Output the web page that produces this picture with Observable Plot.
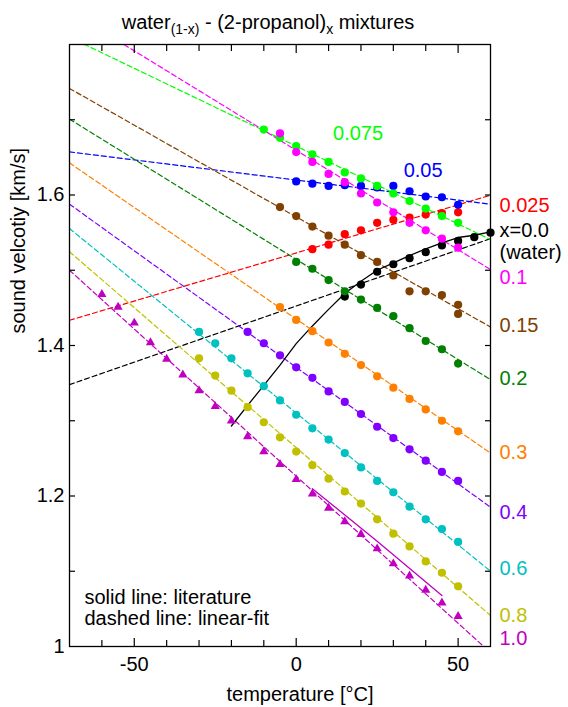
<!DOCTYPE html>
<html><head><meta charset="utf-8">
<script src="https://cdn.jsdelivr.net/npm/d3@7"></script>
<script src="https://cdn.jsdelivr.net/npm/@observablehq/plot@0.6"></script>
<style>
body{margin:0;background:#fff;font-family:"Liberation Sans",Arial,sans-serif;}
#wrap{position:relative;width:568px;height:707px;overflow:hidden;}
#title{position:absolute;z-index:2;left:0;top:10px;width:536px;text-align:center;font-size:20px;line-height:24px;color:#000;}
#title sub{font-size:14px;line-height:0;vertical-align:-5px;}
</style></head><body>
<div id="wrap"><div id="title">water<sub>(1-x)</sub> - (2-propanol)<sub>x</sub> mixtures</div></div>
<script>
// ---------- data ----------
const seriesNames = ["x=0.0","0.025","0.05","0.075","0.1","0.15","0.2","0.3","0.4","0.6","0.8","1.0"];

const tWater = [15,20,25,30,35,40,45,50,55,60];
const vWater = [1.465,1.481,1.498,1.508,1.516,1.524,1.533,1.539,1.544,1.550];
const t0025 = [5,10,15,20,25,30,35,40,45,50];
const v0025 = [1.528,1.534,1.548,1.553,1.563,1.567,1.570,1.574,1.576,1.577];
const t005 = [0,5,10,15,20,25,30,35,40,45,50];
const v005 = [1.618,1.615,1.612,1.613,1.612,1.610,1.612,1.605,1.598,1.597,1.587];
const t0075 = [-10,-5,0,5,10,15,20,25,30,35,40,45,50];
const v0075 = [1.687,1.676,1.665,1.654,1.644,1.630,1.622,1.612,1.602,1.592,1.582,1.572,1.563];
const t01 = [-5,0,5,10,15,20,25,30,35,40,45,50];
const v01 = [1.682,1.657,1.644,1.628,1.617,1.602,1.590,1.577,1.563,1.553,1.542,1.530];
const t015 = [-5,0,5,10,15,20,25,30,35,40,45,50,50];
const v015 = [1.584,1.572,1.558,1.546,1.534,1.520,1.511,1.493,1.472,1.472,1.467,1.454,1.442];
const t02 = [0,5,10,15,20,25,30,35,40,45,50];
const v02 = [1.511,1.502,1.487,1.472,1.461,1.450,1.439,1.423,1.406,1.395,1.376];
const t03 = [-5,0,5,10,15,20,25,30,35,40,45,50];
const v03 = [1.451,1.434,1.419,1.404,1.389,1.374,1.359,1.344,1.329,1.315,1.300,1.286];
const t04 = [-15,-10,-5,0,5,10,15,20,25,30,35,40,45,50];
const v04 = [1.418,1.403,1.387,1.371,1.357,1.339,1.325,1.309,1.292,1.277,1.262,1.247,1.232,1.220];
const t06 = [-30,-25,-20,-15,-10,-5,0,5,10,15,20,25,30,35,40,45,50];
const v06 = [1.418,1.403,1.383,1.363,1.346,1.327,1.308,1.290,1.275,1.257,1.238,1.220,1.205,1.186,1.169,1.156,1.139];
const t08 = [-30,-25,-20,-15,-10,-5,0,5,10,15,20,25,30,35,40,45,50];
const v08 = [1.383,1.360,1.340,1.318,1.298,1.278,1.259,1.241,1.223,1.206,1.190,1.169,1.150,1.133,1.113,1.098,1.080];
const t10 = [-60,-55,-50,-45,-40,-35,-30,-25,-20,-15,-10,-5,0,5,10,15,20,25,30,35,40,45,50];
const v10 = [1.468,1.451,1.430,1.404,1.382,1.361,1.340,1.319,1.300,1.279,1.259,1.242,1.222,1.203,1.184,1.166,1.149,1.130,1.110,1.094,1.075,1.058,1.040];

// linear-fit lines: value at the left (-70 °C) and right (60 °C) edge of the frame
const fitT = [-70, 60];
const fitLeftV  = [1.348,1.4335,1.6573,1.8097,1.8444,1.7416,1.7008,1.6427,1.5878,1.5554,1.5246,1.500];
const fitRightV = [1.542,1.5997,1.5878,1.5408,1.5009,1.4246,1.3547,1.2571,1.1852,1.1001,1.0412,0.9918];

// literature (solid) curves
const litWaterT = [-20,-15,-10,-5,0,5,10,15,20,25,30,35,40,45,50,55,60];
const litWaterV = [1.293,1.3205,1.347,1.374,1.4025,1.426,1.448,1.469,1.4854,1.500,1.5097,1.5195,1.5283,1.5363,1.5435,1.5465,1.5509];
const lit10T = [5,25,45];
const lit10V = [1.2097,1.140,1.0678];

// tick values
const xMinorTicks = [-60,-40,-30,-20,-10,10,20,30,40];
const xMajorTicks = [-50,0,50];
const yTicks = [1.1,1.2,1.3,1.4,1.5,1.6,1.7];
const yLabelTicks = [1,1.2,1.4,1.6];

// right-hand series labels
const rightLabels = ["0.025","x=0.0","(water)","0.1","0.15","0.2","0.3","0.4","0.6","0.8","1.0"];
const rightLabelV = [1.5864,1.5522,1.5240,1.4898,1.4259,1.3564,1.2571,1.1778,1.1041,1.0412,1.0102];
const rightLabelSeries = ["0.025","x=0.0","x=0.0","0.1","0.15","0.2","0.3","0.4","0.6","0.8","1.0"];
const innerLabels = ["0.075","0.05"];
const innerLabelT = [19.1, 39.2];
const innerLabelV = [1.6822, 1.633];

// ---------- styles ----------
const palette = ["#000000","#ff0000","#0000ff","#00ff00","#ff00ff","#804000","#008000","#ff8000","#8000ff","#00c0c0","#c0c000","#c000c0"];
const colorOf = s => palette[seriesNames.indexOf(s)];

const tArr = [tWater,t0025,t005,t0075,t01,t015,t02,t03,t04,t06,t08,t10];
const vArr = [vWater,v0025,v005,v0075,v01,v015,v02,v03,v04,v06,v08,v10];

const marks = [];
// fits
seriesNames.forEach((s,i) => {
  const rows = fitT.map((t,j) => ({T: t, V: j === 0 ? fitLeftV[i] : fitRightV[i]}));
  marks.push(Plot.line(rows, {x: "T", y: "V", stroke: palette[i], strokeWidth: 1.2, strokeDasharray: "5,3", clip: true}));
});
// literature
marks.push(Plot.line(litWaterT.map((t,i)=>({T:t,V:litWaterV[i]})), {x:"T", y:"V", stroke:"#000", strokeWidth:1.3}));
marks.push(Plot.line(lit10T.map((t,i)=>({T:t,V:lit10V[i]})), {x:"T", y:"V", stroke:colorOf("1.0"), strokeWidth:1.3}));
// points
seriesNames.forEach((s,i) => {
  const rows = tArr[i].map((t,j)=>({T:t, V:vArr[i][j]}));
  if (s === "1.0") marks.push(Plot.dot(rows, {x:"T", y:"V", fill: palette[i], symbol:"triangle", r: 3.4}));
  else marks.push(Plot.dot(rows, {x:"T", y:"V", fill: palette[i], r: 4.1}));
});

// frame & axes
marks.push(Plot.frame({stroke:"#000", strokeWidth:1.3}));
const tickCommon = {label: null, tickFormat: () => "", strokeWidth: 1.2};
marks.push(Plot.axisX(xMinorTicks, {...tickCommon, anchor:"bottom", tickSize:-6}));
marks.push(Plot.axisX(xMajorTicks, {...tickCommon, anchor:"bottom", tickSize:-8}));
marks.push(Plot.axisX(xMinorTicks, {...tickCommon, anchor:"top", tickSize:-6}));
marks.push(Plot.axisX(xMajorTicks, {...tickCommon, anchor:"top", tickSize:-8}));
marks.push(Plot.axisY(yTicks, {...tickCommon, anchor:"left", tickSize:-6}));
marks.push(Plot.axisY(yTicks, {...tickCommon, anchor:"right", tickSize:-6}));
marks.push(Plot.axisX(xMajorTicks, {anchor:"bottom", label:null, tickSize:0, tickPadding:10.5, tickFormat: d => String(d), fontSize: 20, fill:"#000"}));
marks.push(Plot.axisY(yLabelTicks, {anchor:"left", label:null, tickSize:0, tickPadding:5, tickFormat: d => String(d), fontSize: 20, fill:"#000"}));

// axis titles
marks.push(Plot.text(["temperature [°C]"], {frameAnchor:"bottom", dy:54, dx:20, fontSize:20, fill:"#000"}));
marks.push(Plot.text(["sound velcotiy [km/s]"], {frameAnchor:"left", rotate:-90, dx:-51, dy:-12, fontSize:20, fill:"#000"}));

// series labels
marks.push(Plot.text(rightLabels.map((l,i)=>({l, V:rightLabelV[i], s:rightLabelSeries[i]})),
  {frameAnchor:"right", y:"V", text:"l", textAnchor:"start", dx:9, fontSize:20, fill: d => colorOf(d.s)}));
marks.push(Plot.text(innerLabels.map((l,i)=>({l, T:innerLabelT[i], V:innerLabelV[i]})),
  {x:"T", y:"V", text:"l", fontSize:20, fill: d => colorOf(d.l)}));

// notes
marks.push(Plot.text(["solid line: literature"], {frameAnchor:"bottom-left", textAnchor:"start", dx:15, dy:-43, fontSize:20, fill:"#000"}));
marks.push(Plot.text(["dashed line: linear-fit"], {frameAnchor:"bottom-left", textAnchor:"start", dx:15, dy:-22, fontSize:20, fill:"#000"}));

const chart = Plot.plot({
  width: 568, height: 707,
  marginLeft: 69, marginRight: 78, marginTop: 44, marginBottom: 61,
  x: {domain: [-70, 60]},
  y: {domain: [1, 1.8]},
  style: {fontFamily: "'Liberation Sans', Arial, sans-serif", fontSize: "20px", color: "#000", background: "#fff"},
  marks
});
document.getElementById("wrap").appendChild(chart);
</script>
</body></html>
